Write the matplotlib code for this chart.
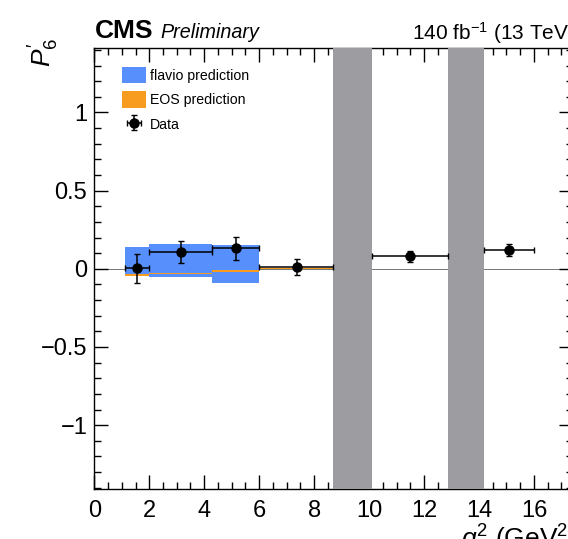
import numpy as np
import matplotlib
matplotlib.use("Agg")
import matplotlib.pyplot as plt
from matplotlib.ticker import MultipleLocator, FuncFormatter

plt.rcParams['font.family'] = ['Liberation Sans', 'DejaVu Sans']
plt.rcParams['mathtext.fontset'] = 'custom'
plt.rcParams['mathtext.rm'] = 'Liberation Sans'
plt.rcParams['mathtext.it'] = 'Liberation Sans:italic'
plt.rcParams['mathtext.bf'] = 'Liberation Sans:bold'

# ---- data ----
bin_lo = np.array([1.1, 2.0, 4.3, 6.0, 10.09, 14.18])
bin_hi = np.array([2.0, 4.3, 6.0, 8.68, 12.86, 16.0])
data_x = np.array([1.56, 3.16, 5.17, 7.37, 11.48, 15.08])
data_y = np.array([0.002, 0.106, 0.131, 0.010, 0.080, 0.121])
data_err = np.array([0.094, 0.072, 0.075, 0.051, 0.037, 0.040])

pred_lo = np.array([1.1, 2.0, 4.3, 6.0])
pred_hi = np.array([2.0, 4.3, 6.0, 8.68])
flavio_low = np.array([-0.049, -0.054, -0.092, -0.002])
flavio_high = np.array([0.142, 0.160, 0.149, 0.006])
eos_low = np.array([-0.046, -0.035, -0.018, 0.000])
eos_high = np.array([-0.036, -0.025, -0.008, 0.008])

vetoes = [(8.68, 10.09), (12.86, 14.18)]

BLUE = '#5790fc'
ORANGE = '#f89c20'
GRAY = '#9c9ca1'

W, H = 568, 539
fig = plt.figure(figsize=(W / 100, H / 100), dpi=100)
L, R, T, B = 94.3, 573.0, 48.3, 489.3
ax = fig.add_axes([L / W, 1 - B / H, (R - L) / W, (B - T) / H])

ax.axhline(0, color='#777777', lw=0.7, zorder=1)
ax.bar(pred_lo, flavio_high - flavio_low, width=pred_hi - pred_lo, bottom=flavio_low,
       align='edge', color=BLUE, lw=0, zorder=2, label='flavio prediction')
ax.bar(pred_lo, eos_high - eos_low, width=pred_hi - pred_lo, bottom=eos_low,
       align='edge', color=ORANGE, lw=0, zorder=2.5, label='EOS prediction')
for a, b in vetoes:
    ax.axvspan(a, b, color=GRAY, lw=0, zorder=3)
ax.errorbar(data_x, data_y, xerr=[data_x - bin_lo, bin_hi - data_x], yerr=data_err,
            fmt='o', color='black', ms=6.5, lw=1.1, capsize=2, capthick=1,
            zorder=5, label='Data')

ax.set_xlim(0, 17.42)
ax.set_ylim(-1.41, 1.41)
ax.xaxis.set_major_locator(MultipleLocator(2))
ax.xaxis.set_minor_locator(MultipleLocator(0.5))
ax.yaxis.set_major_locator(MultipleLocator(0.5))
ax.yaxis.set_minor_locator(MultipleLocator(0.1))
ax.yaxis.set_major_formatter(FuncFormatter(lambda v, p: ('%g' % round(v, 3)).replace('-', '\u2212') if abs(v) > 1e-9 else '0'))
ax.tick_params(which='both', direction='in', top=True, right=True, labelsize=17, width=1.0)
ax.tick_params(which='major', length=10)
ax.tick_params(which='minor', length=5)
ax.tick_params(axis='x', pad=8)
ax.tick_params(axis='y', pad=5)
for s in ax.spines.values():
    s.set_linewidth(1.0)

h, l = ax.get_legend_handles_labels()
ax.legend(h, l, loc='upper left', bbox_to_anchor=(27.4 / (R - L), 1 - 18.4 / (B - T)),
          frameon=False, fontsize=10.2, handlelength=1.68, handleheight=1.44,
          labelspacing=0.56, handletextpad=0.3, borderpad=0, borderaxespad=0)

fig.text(95 / W, 1 - 37.5 / H, 'CMS', weight='bold', size=19, va='baseline', ha='left')
fig.text(160.7 / W, 1 - 37.5 / H, 'Preliminary', style='italic', size=14.2, va='baseline', ha='left')
fig.text(575 / W, 1 - 40 / H, r'140 fb$^{-1}$ (13 TeV)', size=15, va='baseline', ha='right')
fig.text(577 / W, 1 - 548 / H, r'$q^{2}$ (GeV$^{2}$)', size=19, va='baseline', ha='right')
fig.text(44 / W, 1 - 38 / H, r"$P_{6}^{\prime}$", size=19, rotation=90, va='top', ha='center')

fig.savefig('out.png', dpi=100)
